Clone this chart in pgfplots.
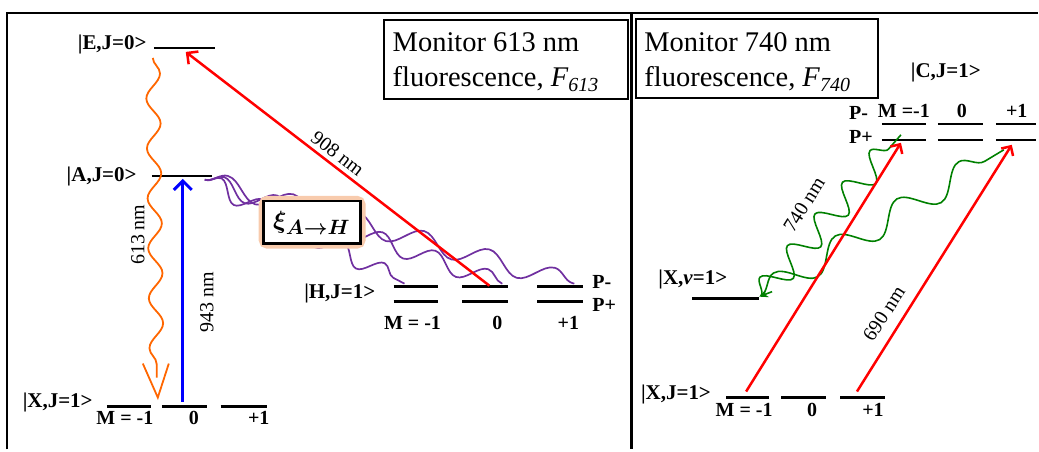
\documentclass[border=0pt]{standalone}
\usepackage{amsmath}
\usepackage{bm}
\usepackage{fontspec}
\setmainfont{Liberation Serif}
\usepackage{pgfplots}
\pgfplotsset{compat=1.18}
\usetikzlibrary{arrows.meta,decorations.pathmorphing}
\definecolor{myred}{RGB}{255,0,0}
\definecolor{myblue}{RGB}{0,0,255}
\definecolor{myorange}{RGB}{255,102,0}
\definecolor{mypurple}{RGB}{112,48,160}
\definecolor{mygreen}{RGB}{0,128,0}
\definecolor{glow}{RGB}{248,203,173}
\newcommand{\lab}{\fontsize{21}{21}\selectfont\bfseries}
\newcommand{\mlab}{\fontsize{20}{20}\selectfont\bfseries}
\newcommand{\mon}{\fontsize{28.5}{30}\selectfont}
\newcommand{\wl}{\fontsize{20}{20}\selectfont}
\begin{document}
\begin{tikzpicture}
\begin{axis}[scale only axis, width=1039pt, height=450pt,
  xmin=0, xmax=1039, ymin=0, ymax=450, y dir=reverse,
  hide axis, clip=false]
% bounding
\path (axis cs:0,0) rectangle (axis cs:1039,450);
% frame
\addplot[black, line width=2.5pt] coordinates {(7,450) (7,13) (1039,13)};
\addplot[black, line width=3.5pt] coordinates {(632,13) (632,450)};
% monitor boxes
\draw[line width=2pt] (axis cs:384,20) rectangle (axis cs:629,99);
\draw[line width=2pt] (axis cs:637,19) rectangle (axis cs:879,98);
\node[anchor=base west, inner sep=0, font=\mon] at (axis cs:393,52) {Monitor 613 nm};
\node[anchor=base west, inner sep=0, font=\mon] at (axis cs:393,87) {fluorescence, \textit{F}\textsubscript{\textit{613}}};
\node[anchor=base west, inner sep=0, font=\mon] at (axis cs:645,52) {Monitor 740 nm};
\node[anchor=base west, inner sep=0, font=\mon] at (axis cs:645,87) {fluorescence, \textit{F}\textsubscript{\textit{740}}};
% ---------- left panel levels
\addplot[black, line width=2.5pt] coordinates {(154,48) (215,48)};
\addplot[black, line width=2.5pt] coordinates {(152,176) (212,176)};
\addplot[black, line width=2.5pt] coordinates {(107,407) (151,407)};
\addplot[black, line width=2.5pt] coordinates {(162,407) (207,407)};
\addplot[black, line width=2.5pt] coordinates {(221,407) (267,407)};
\addplot[black, line width=2.5pt] coordinates {(394,287) (439,287)};
\addplot[black, line width=2.5pt] coordinates {(463,287) (509,287)};
\addplot[black, line width=2.5pt] coordinates {(538,287) (584,287)};
\addplot[black, line width=2.5pt] coordinates {(394,302) (439,302)};
\addplot[black, line width=2.5pt] coordinates {(463,302) (509,302)};
\addplot[black, line width=2.5pt] coordinates {(538,302) (584,302)};
% purple waves
\addplot[mypurple, line width=1.7pt, decorate, decoration={snake, amplitude=9pt, segment length=46pt}] coordinates {(205,180) (405,284)};
\addplot[mypurple, line width=1.7pt, decorate, decoration={snake, amplitude=9pt, segment length=56pt}] coordinates {(205,180) (503,284)};
\addplot[mypurple, line width=1.7pt, decorate, decoration={snake, amplitude=10pt, segment length=68pt}] coordinates {(205,180) (575,284)};
% orange wave
\addplot[myorange, line width=1.8pt, decorate, decoration={snake, amplitude=7pt, segment length=50pt}] coordinates {(153,58) (157,378)};
\addplot[myorange, line width=1.8pt] coordinates {(143,364) (158,398) (169,364)};
% blue arrow
\addplot[myblue, line width=3pt, -{Straight Barb[length=9pt,width=18pt]}] coordinates {(183,402) (183,179)};
% red 908
\addplot[myred, line width=2.5pt, -{Straight Barb[length=8pt,width=16pt]}] coordinates {(490,286) (186,52)};
% xi box
\draw[glow, line width=10pt, rounded corners=4pt] (axis cs:264,201) rectangle (axis cs:361,244);
\draw[black, line width=2.5pt, fill=white] (axis cs:264,201) rectangle (axis cs:361,244);
\node at (axis cs:312,223) {\fontsize{24.88}{26}\selectfont $\bm{\xi}_{\bm{A\to H}}$};
% left labels
\node[anchor=base east, inner sep=0, font=\lab] at (axis cs:147,50) {|E,J=0>};
\node[anchor=base east, inner sep=0, font=\lab] at (axis cs:137,182) {|A,J=0>};
\node[anchor=base east, inner sep=0, font=\lab] at (axis cs:93,408) {|X,J=1>};
\node[anchor=base east, inner sep=0, font=\lab] at (axis cs:376,299) {|H,J=1>};
\node[anchor=base, inner sep=0, font=\mlab] at (axis cs:125,425) {M = -1};
\node[anchor=base, inner sep=0, font=\mlab] at (axis cs:194,425) {0};
\node[anchor=base, inner sep=0, font=\mlab] at (axis cs:259,425) {+1};
\node[anchor=base, inner sep=0, font=\mlab] at (axis cs:413,330) {M = -1};
\node[anchor=base, inner sep=0, font=\mlab] at (axis cs:498,330) {0};
\node[anchor=base, inner sep=0, font=\mlab] at (axis cs:569,330) {+1};
\node[anchor=base west, inner sep=0, font=\mlab] at (axis cs:593,289) {P-};
\node[anchor=base west, inner sep=0, font=\mlab] at (axis cs:593,312) {P+};
\node[inner sep=0, font=\wl, rotate=-37.6] at (axis cs:338,154) {908 nm};
\node[inner sep=0, font=\wl, rotate=90] at (axis cs:138,235) {613 nm};
\node[inner sep=0, font=\wl, rotate=90] at (axis cs:207,303) {943 nm};
% ---------- right panel levels
\addplot[black, line width=2.5pt] coordinates {(883,124) (927,124)};
\addplot[black, line width=2.5pt] coordinates {(939,124) (984,124)};
\addplot[black, line width=2.5pt] coordinates {(997,124) (1037,124)};
\addplot[black, line width=2.5pt] coordinates {(883,140) (927,140)};
\addplot[black, line width=2.5pt] coordinates {(939,140) (984,140)};
\addplot[black, line width=2.5pt] coordinates {(997,140) (1037,140)};
\addplot[black, line width=2.5pt] coordinates {(693,299) (760,299)};
\addplot[black, line width=2.5pt] coordinates {(727,398) (770,398)};
\addplot[black, line width=2.5pt] coordinates {(782,398) (827,398)};
\addplot[black, line width=2.5pt] coordinates {(841,398) (886,398)};
% green waves
\addplot[mygreen, line width=1.6pt, decorate, decoration={snake, amplitude=13pt, segment length=42pt}] coordinates {(762,296) (902,135)};
\addplot[mygreen, line width=1.6pt, decorate, decoration={snake, amplitude=13pt, segment length=72pt}] coordinates {(762,296) (1005,150)};
\addplot[mygreen, line width=1.6pt, -{Stealth[length=9pt,width=8pt]}] coordinates {(773,292) (760,297)};
% red arrows right
\addplot[myred, line width=2.5pt, -{Straight Barb[length=7pt,width=14pt]}] coordinates {(747,392) (902,143)};
\addplot[myred, line width=2.5pt, -{Straight Barb[length=7pt,width=14pt]}] coordinates {(858,392) (1013,145)};
% right labels
\node[anchor=base, inner sep=0, font=\lab] at (axis cs:947,78) {|C,J=1>};
\node[anchor=base west, inner sep=0, font=\lab] at (axis cs:659,285) {|X,\textit{v}=1>};
\node[anchor=base east, inner sep=0, font=\lab] at (axis cs:712,400) {|X,J=1>};
\node[anchor=base, inner sep=0, font=\mlab] at (axis cs:905,118) {M =-1};
\node[anchor=base, inner sep=0, font=\mlab] at (axis cs:963,118) {0};
\node[anchor=base, inner sep=0, font=\mlab] at (axis cs:1018,118) {+1};
\node[anchor=base west, inner sep=0, font=\mlab] at (axis cs:850,120) {P-};
\node[anchor=base west, inner sep=0, font=\mlab] at (axis cs:850,144) {P+};
\node[anchor=base, inner sep=0, font=\mlab] at (axis cs:745,417) {M = -1};
\node[anchor=base, inner sep=0, font=\mlab] at (axis cs:813,417) {0};
\node[anchor=base, inner sep=0, font=\mlab] at (axis cs:874,417) {+1};
\node[inner sep=0, font=\wl, rotate=58] at (axis cs:805,205) {740 nm};
\node[inner sep=0, font=\wl, rotate=57] at (axis cs:885,314) {690 nm};
\end{axis}
\end{tikzpicture}
\end{document}
